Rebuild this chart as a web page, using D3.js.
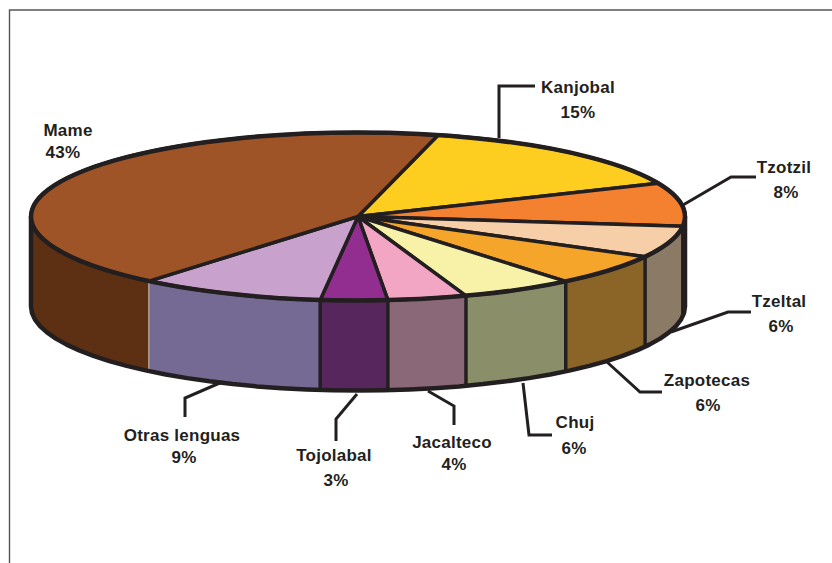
<!DOCTYPE html>
<html><head><meta charset="utf-8">
<script src="https://cdn.jsdelivr.net/npm/d3@7/dist/d3.min.js"></script>
<style>html,body{margin:0;padding:0;background:#fff}svg{display:block}</style>
</head><body>
<svg id="c" width="832" height="563"></svg>
<script>
// data
const categories = ["Kanjobal","Tzotzil","Tzeltal","Zapotecas","Chuj","Jacalteco","Tojolabal","Otras lenguas","Mame"];
const values = [14.6,8.3,6.1,6.1,5.6,3.9,3.3,9.2,42.9];
const topColors = ["#fdcd20","#f48130","#f6cfa8","#f5a52a","#f7f2a8","#f2a6c4","#922e8f","#c8a2cc","#9f5428"];
const sideColors = ["#8a7420","#8a5a2a","#8b7b66","#8a6527","#8a8f69","#8a6877","#57265c","#746a93","#5e3013"];
// layout
const cx=358, cy=216.5, rx=327, ry=84, depth=90, startDeg=14.2;
const ink="#231f20";
const leaders = [
 [[499,138],[499,86],[535,86]],
 [[683,205],[731,177],[756,177]],
 [[671,332],[728,312],[751,312]],
 [[607,362],[640,392],[662,392]],
 [[523,383],[529,435],[552,435]],
 [[428,391],[454,406],[454,425]],
 [[357,394],[336,419],[336,441]],
 [[222,382],[185,398],[185,417]],
 []
];
const nameAt = [[578,93],[784,173],[779,307],[707,386],[575,428],[452,448],[334,461],[182,441],[68,136]];
const pctAt  = [[578,118],[786,198],[781,332],[708,411],[574,454],[454,470],[336,486],[184,463],[63,158]];

const svg=d3.select("#c");
// frame
svg.append("path").attr("d","M9.5,563V10H832").attr("fill","none").attr("stroke","#555").attr("stroke-width",1.4);

const a0=startDeg*Math.PI/180;
const slices=d3.pie().sort(null).startAngle(a0).endAngle(a0+2*Math.PI)(values);
const px=a=>cx+rx*Math.sin(a), py=a=>cy-ry*Math.cos(a);
const HALF=Math.PI/2, VIS0=HALF, VIS1=3*HALF;

// side walls
const lineGen=d3.line().x(d=>d[0]).y(d=>d[1]);
const arcPts=(s,e,dy)=>d3.range(0,41).map(i=>{const a=s+(e-s)*i/40;return [px(a),py(a)+dy];});
const visible=slices.map((d,i)=>({i,s:Math.max(d.startAngle,VIS0),e:Math.min(d.endAngle,VIS1)})).filter(d=>d.e>d.s);
const walls=svg.append("g");
visible.forEach(d=>{
  const pts=arcPts(d.s,d.e,0).concat(arcPts(d.e,d.s,depth));
  walls.append("path").attr("d",lineGen(pts)+"Z").attr("fill",sideColors[d.i]);
});
// dividers on the wall
visible.forEach(d=>{
  if(d.s<=VIS0) return;
  const isLast=categories[d.i]==="Mame";
  walls.append("line").attr("x1",px(d.s)).attr("x2",px(d.s)).attr("y1",py(d.s)).attr("y2",py(d.s)+depth)
    .attr("stroke",isLast?"#cdbfb8":ink).attr("stroke-width",isLast?1:3.5);
});
// wall outline
walls.append("path").attr("d",lineGen([[px(VIS0),py(VIS0)]].concat(arcPts(VIS0,VIS1,depth)).concat([[px(VIS1),py(VIS1)]])))
  .attr("fill","none").attr("stroke",ink).attr("stroke-width",4.5).attr("stroke-linejoin","round");

// top faces
const arc=d3.arc().innerRadius(0).outerRadius(rx);
const topFaces=svg.append("g").attr("transform",`translate(${cx},${cy}) scale(1,${ry/rx})`);
topFaces.selectAll("path").data(slices).join("path")
  .attr("d",arc).attr("fill",(d,i)=>topColors[i]).attr("stroke",ink).attr("stroke-width",3.5)
  .attr("stroke-linejoin","round").attr("vector-effect","non-scaling-stroke");
// rim
svg.append("ellipse").attr("cx",cx).attr("cy",cy).attr("rx",rx).attr("ry",ry)
  .attr("fill","none").attr("stroke",ink).attr("stroke-width",4.5);

// leaders
svg.append("g").selectAll("path").data(leaders.filter(l=>l.length)).join("path")
  .attr("d",lineGen).attr("fill","none").attr("stroke",ink).attr("stroke-width",3);

// labels
const lab=svg.append("g").attr("font-family","'Liberation Sans',Arial,sans-serif").attr("font-weight",700)
  .attr("font-size",17).attr("letter-spacing",0.25).attr("fill",ink).attr("text-anchor","middle");
categories.forEach((c,i)=>{
  lab.append("text").attr("x",nameAt[i][0]).attr("y",nameAt[i][1]).text(c);
  lab.append("text").attr("x",pctAt[i][0]).attr("y",pctAt[i][1]).text(Math.round(values[i])+"%");
});
</script>
</body></html>
